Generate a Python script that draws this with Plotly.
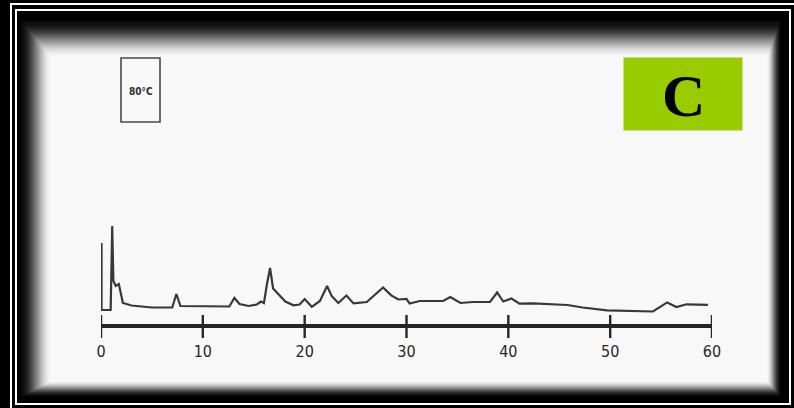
import plotly.graph_objects as go

W, H = 794, 408

# ---- data (retention time in min, detector signal in a.u.) ----
times = [0.05, 0.05, 0.95, 1.1, 1.22, 1.45, 1.75, 2.15, 3.0, 5.0, 7.0, 7.4, 7.8, 8.2, 10.0,
         12.6, 13.1, 13.6, 14.5, 15.3, 15.7, 16.0, 16.3, 16.6, 16.9, 17.4, 18.1, 18.9, 19.5,
         20.0, 20.7, 21.5, 22.2, 22.65, 23.3, 24.1, 24.8, 26.1, 27.1, 27.7, 28.5, 29.2, 30.0,
         30.3, 31.3, 33.6, 34.3, 35.3, 36.5, 38.2, 38.9, 39.5, 40.3, 41.1, 42.4, 45.8, 47.3,
         49.7, 54.2, 54.9, 55.6, 56.5, 57.5, 59.6]
signal = [83, 16, 16, 100, 45, 40, 42, 23, 20.5, 18.5, 18.5, 32, 20, 20, 19.5,
          19.5, 28, 22, 20, 21.5, 24.5, 23, 42, 58, 37.5, 32.5, 24.5, 20.7, 21.5,
          27, 19.2, 25, 40, 30, 23, 30.5, 22.6, 24, 32.5, 38.5, 30.6, 26.5, 27,
          22.4, 25, 25, 29, 23, 24, 24, 33.5, 24.5, 27.5, 22.4, 22.6, 21, 18.5,
          15.6, 14.5, 19, 23.6, 19, 21.7, 21.1]
tick_vals = [0, 10, 20, 30, 40, 50, 60]
tick_text = ["0", "10", "20", "30", "40", "50", "60"]
temp_label = "80°C"
panel_label = "C"


def px(x):
    return x / W


def py(y):
    return 1 - y / H


fig = go.Figure()

# baseline axis (from the tick range) and crossing tick marks
fig.add_trace(go.Scatter(x=[tick_vals[0], tick_vals[-1]], y=[0, 0], mode="lines",
                         line=dict(color="#262626", width=3.8), hoverinfo="skip"))
tx, ty = [], []
for t in tick_vals:
    tx += [t, t, None]
    ty += [-12, 11, None]
fig.add_trace(go.Scatter(x=tx, y=ty, mode="lines", line=dict(color="#262626", width=2.4),
                         hoverinfo="skip"))
# chromatogram trace
fig.add_trace(go.Scatter(x=times, y=signal, mode="lines",
                         line=dict(color="#383838", width=2.2), hoverinfo="skip"))

shapes = []
# vignette (stepped grey levels, outer dark -> inner paper white)
n = 18
for i in range(n):
    f = (i + 0.5) / n
    s = f * f * (3 - 2 * f)
    g = int(round(10 + s * (249 - 10)))
    x0 = 20 + f * 31
    y0 = 20 + f * 37
    x1 = 781 - f * 14
    y1 = 397 - f * 16
    shapes.append(dict(type="rect", xref="paper", yref="paper",
                       x0=px(x0), x1=px(x1), y0=py(y1), y1=py(y0),
                       line=dict(width=0), fillcolor=f"rgb({g},{g},{g})", layer="below"))
# white double frame lines
shapes.append(dict(type="rect", xref="paper", yref="paper", x0=px(11), x1=px(800),
                   y0=py(414), y1=py(4), line=dict(color="white", width=2), layer="above"))
shapes.append(dict(type="rect", xref="paper", yref="paper", x0=px(16), x1=px(790),
                   y0=py(404), y1=py(10), line=dict(color="white", width=2), layer="above"))
# temperature box
shapes.append(dict(type="rect", xref="paper", yref="paper", x0=px(121), x1=px(160),
                   y0=py(122), y1=py(58), line=dict(color="#4a4a4a", width=1.6), layer="above"))
# panel label box
shapes.append(dict(type="rect", xref="paper", yref="paper", x0=px(623.5), x1=px(742.5),
                   y0=py(130.5), y1=py(57.5), line=dict(width=0), fillcolor="#99cc00",
                   layer="above"))

annotations = [
    dict(text=f"<b>{temp_label}</b>", xref="paper", yref="paper", x=px(141), y=py(91),
         showarrow=False, xanchor="center", yanchor="middle",
         font=dict(family="DejaVu Sans Condensed, sans-serif", size=10, color="#2e2e2e")),
    dict(text=f"<b>{panel_label}</b>", xref="paper", yref="paper", x=px(683), y=py(96),
         showarrow=False, xanchor="center", yanchor="middle",
         font=dict(family="Liberation Serif, Times New Roman, serif", size=60, color="black")),
]

fig.update_layout(
    width=W, height=H, autosize=False,
    margin=dict(l=0, r=0, t=0, b=0),
    paper_bgcolor="black", plot_bgcolor="rgba(0,0,0,0)",
    showlegend=False,
    shapes=shapes, annotations=annotations,
    xaxis=dict(domain=[px(101), px(712)], range=[0, 60], showgrid=False, zeroline=False,
               showline=False, tickmode="array", tickvals=tick_vals, ticktext=tick_text,
               ticks="", automargin=False,
               tickfont=dict(family="Liberation Sans Narrow, DejaVu Sans Condensed, sans-serif",
                             size=16, color="#262626")),
    yaxis=dict(domain=[py(340), py(216)], range=[-14, 110], visible=False,
               showgrid=False, zeroline=False, automargin=False),
)

fig.write_html("out.html", config={"displayModeBar": False},
               post_script="document.body.style.margin='0';document.body.style.background='black';")
